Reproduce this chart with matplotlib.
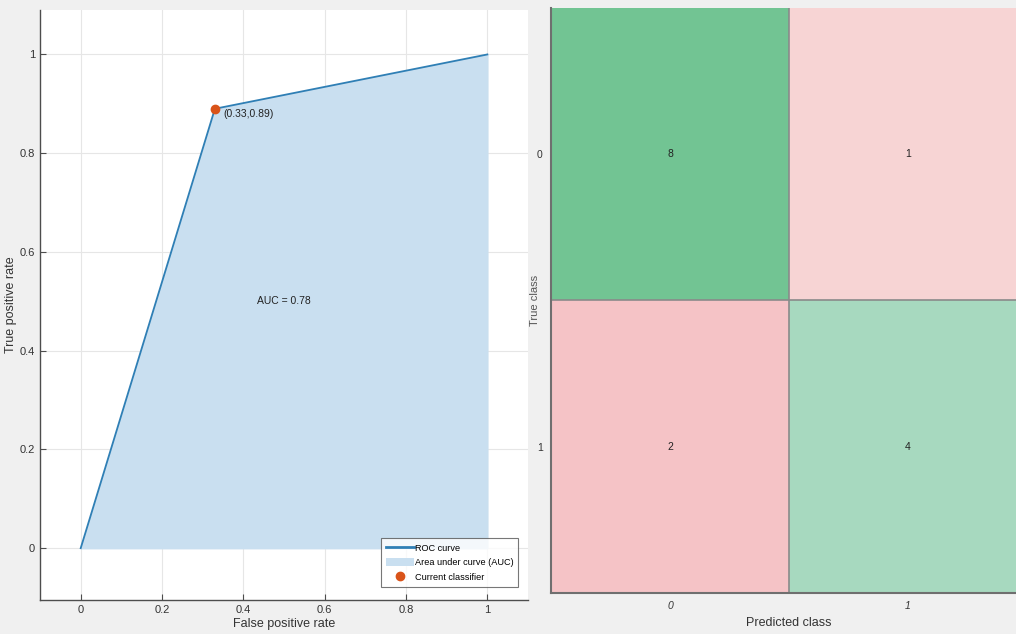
import matplotlib
matplotlib.use("Agg")
import matplotlib.pyplot as plt
from matplotlib.colors import ListedColormap
from matplotlib.lines import Line2D
from matplotlib.patches import Patch
import numpy as np

plt.rcParams['font.family'] = ['Liberation Sans Narrow', 'Liberation Sans', 'DejaVu Sans']

# ROC data
fpr = [0.0, 0.33, 1.0]
tpr = [0.0, 0.89, 1.0]
current_point = (0.33, 0.89)
auc_value = 0.78

# confusion matrix
class_labels = ["0", "1"]
conf_matrix = [[8, 1],
               [2, 4]]
cell_colors = [["#72c493", "#f7d4d4"],
               ["#f5c3c6", "#a7d9bf"]]

fig = plt.figure(figsize=(10.16, 6.34), dpi=100, facecolor="#f0f0f0")

# ---- left: ROC curve ----
ax = fig.add_axes([0.0394, 0.0536, 0.4803, 0.9306])
ax.set_facecolor("white")
ax.fill_between(fpr, tpr, 0, color="#c9dff0", zorder=1)
ax.plot(fpr, tpr, color="#2f7fb5", lw=1.3, zorder=2)
ax.plot(*current_point, "o", color="#d95319", ms=6, zorder=3)
ax.text(current_point[0] + 0.02, current_point[1] - 0.01,
        f"({current_point[0]:.2f},{current_point[1]:.2f})",
        fontsize=7.5, va="center", ha="left", color="#222222")
ax.text(0.5, 0.5, f"AUC = {auc_value:.2f}", fontsize=7.5, ha="center", va="center",
        color="#222222")
ax.set_xlim(-0.1, 1.1)
ax.set_ylim(-0.105, 1.09)
ax.set_xticks([0, 0.2, 0.4, 0.6, 0.8, 1])
ax.set_xticklabels(["0", "0.2", "0.4", "0.6", "0.8", "1"])
ax.set_yticks([0, 0.2, 0.4, 0.6, 0.8, 1])
ax.set_yticklabels(["0", "0.2", "0.4", "0.6", "0.8", "1"])
ax.grid(True, color="#e6e6e6", lw=0.8)
ax.set_axisbelow(True)
for side in ["top", "right"]:
    ax.spines[side].set_visible(False)
for side in ["left", "bottom"]:
    ax.spines[side].set_color("#4d4d4d")
    ax.spines[side].set_linewidth(1.0)
ax.tick_params(direction="in", length=4, labelsize=8, colors="#4d4d4d", labelcolor="#333333")
ax.set_xlabel("False positive rate", fontsize=9, color="#333333", labelpad=2)
ax.set_ylabel("True positive rate", fontsize=9, color="#333333")
ax.yaxis.set_label_coords(-0.047, 0.5)

handles = [Line2D([0], [0], color="#2f7fb5", lw=2),
           Patch(facecolor="#c9dff0", edgecolor="none"),
           Line2D([0], [0], marker="o", color="none", markerfacecolor="#d95319",
                  markeredgecolor="#d95319", ms=6)]
leg = ax.legend(handles, ["ROC curve", "Area under curve (AUC)", "Current classifier"],
                loc="lower right", bbox_to_anchor=(0.98, 0.022), fontsize=6.6,
                frameon=True, fancybox=False, edgecolor="#555555",
                handlelength=3.0, handleheight=1.0, handletextpad=0.1,
                borderpad=0.55, borderaxespad=0.0, labelspacing=0.6)
leg.get_frame().set_linewidth(0.8)

# ---- right: confusion matrix ----
ax2 = fig.add_axes([0.5423, 0.0647, 0.4685, 0.9227])
n = len(class_labels)
colors_flat = [c for row in cell_colors for c in row]
cmap = ListedColormap(colors_flat)
idx = np.arange(n * n).reshape(n, n)
ax2.imshow(idx, cmap=cmap, aspect="auto", vmin=-0.5, vmax=n * n - 0.5,
           extent=(-0.5, n - 0.5, n - 0.5, -0.5))
for i in range(n):
    for j in range(n):
        ax2.text(j, i, str(conf_matrix[i][j]), ha="center", va="center",
                 fontsize=7.5, color="#222222")
for k in range(1, n):
    ax2.axvline(k - 0.5, color="#8a8a8a", lw=1.2)
    ax2.axhline(k - 0.5, color="#8a8a8a", lw=1.2)
ax2.set_xticks(range(n))
ax2.set_xticklabels(class_labels, style="italic")
ax2.set_yticks(range(n))
ax2.set_yticklabels(class_labels)
ax2.tick_params(length=0, labelsize=7.5, labelcolor="#333333", pad=6)
for side in ["top", "right"]:
    ax2.spines[side].set_visible(False)
for side in ["left", "bottom"]:
    ax2.spines[side].set_color("#6f6f6f")
    ax2.spines[side].set_linewidth(1.5)
ax2.set_xlabel("Predicted class", fontsize=9, color="#333333", labelpad=4)
ax2.set_ylabel("True class", fontsize=8, color="#555555", labelpad=-2)

fig.savefig("out.png", dpi=100, facecolor=fig.get_facecolor())
